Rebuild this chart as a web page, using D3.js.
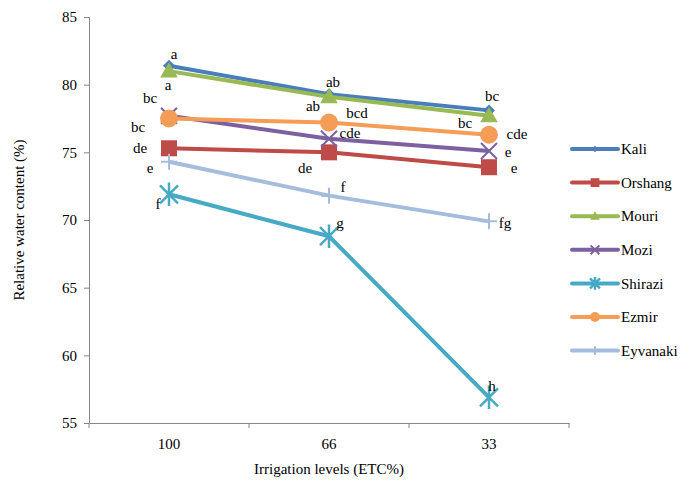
<!DOCTYPE html>
<html>
<head>
<meta charset="utf-8">
<script src="https://cdn.jsdelivr.net/npm/d3@7/dist/d3.min.js"></script>
<style>
  body { margin: 0; background: #fff; }
  svg text { font-family: "Liberation Serif", "Times New Roman", Times, "DejaVu Serif", serif !important; fill: #000; }
</style>
</head>
<body>
<div id="chart"></div>
<script>
// data
const levels = ["100", "66", "33"];
const series = ["Kali", "Orshang", "Mouri", "Mozi", "Shirazi", "Ezmir", "Eyvanaki"];
const kali = [81.4, 79.3, 78.1];
const orshang = [75.3, 75.0, 73.9];
const mouri = [81.0, 79.1, 77.7];
const mozi = [77.7, 76.0, 75.1];
const shirazi = [71.9, 68.8, 56.9];
const ezmir = [77.5, 77.2, 76.3];
const eyvanaki = [74.3, 71.8, 69.9];
const letters = [
  ["a", "ab", "bc"],
  ["de", "de", "e"],
  ["a", "ab", "bc"],
  ["bc", "cde", "e"],
  ["f", "g", "h"],
  ["bc", "bcd", "cde"],
  ["e", "f", "fg"]
];
const yTicks = [55, 60, 65, 70, 75, 80, 85];

// label offsets from the point (layout only)
const labelOffsets = [
  [[5, -12], [4, -12], [3, -15]],
  [[-29, -1], [-24, 15], [25, 1]],
  [[-1, 14], [-16, 9], [-24, 7]],
  [[-19, -18], [21, -6], [19, 1]],
  [[-11, 9], [11, -13], [3, -12]],
  [[-31, 8], [28, -10], [28, -1]],
  [[-19, 6], [14, -9], [16, 1]]
];

const values = [kali, orshang, mouri, mozi, shirazi, ezmir, eyvanaki];
const colors = ["#4A7EBB", "#BE4B48", "#98B954", "#7D60A0", "#46AAC5", "#F59D56", "#A5BCDC"];
const symbols = ["diamond", "square", "triangle", "x", "star", "circle", "plus"];

const width = 691, height = 482;
const svg = d3.select("#chart").append("svg")
  .attr("width", width).attr("height", height);

const x = d3.scaleBand().domain(levels).range([89, 569]);
const y = d3.scaleLinear().domain([55, 85]).range([423, 17]);
const cx = d => x(d) + x.bandwidth() / 2;

// axes
const axisColor = "#868686";
const yAxis = svg.append("g").attr("transform", "translate(89,0)")
  .call(d3.axisLeft(y).tickValues(yTicks).tickSize(5).tickPadding(7));
const xAxis = svg.append("g").attr("transform", "translate(0,423)")
  .call(d3.axisBottom(x).tickSize(0).tickPadding(15));
[yAxis, xAxis].forEach(a => {
  a.attr("font-family", null);
  a.select(".domain").attr("stroke", axisColor);
  a.selectAll(".tick line").attr("stroke", axisColor);
  a.selectAll("text").style("font-size", "15px");
});
// x tick marks at band edges
xAxis.selectAll(".edge")
  .data([89, 249, 409, 569])
  .join("line")
  .attr("x1", d => d).attr("x2", d => d)
  .attr("y1", 0).attr("y2", 5)
  .attr("stroke", axisColor);

svg.append("text")
  .attr("transform", "translate(24,220) rotate(-90)")
  .attr("text-anchor", "middle")
  .style("font-size", "15px")
  .text("Relative water content (%)");
svg.append("text")
  .attr("x", 329).attr("y", 474)
  .attr("text-anchor", "middle")
  .style("font-size", "15px")
  .text("Irrigation levels (ETC%)");

// marker drawing
function drawMarker(g, type, color, s) {
  if (type === "diamond") {
    g.append("path").attr("d", `M0,${-s} L${s},0 L0,${s} L${-s},0Z`).attr("fill", color);
  } else if (type === "square") {
    g.append("rect").attr("x", -s).attr("y", -s).attr("width", 2 * s).attr("height", 2 * s).attr("fill", color);
  } else if (type === "triangle") {
    g.append("path").attr("d", `M0,${-s * 1.1} L${s * 1.1},${s * 0.8} L${-s * 1.1},${s * 0.8}Z`).attr("fill", color);
  } else if (type === "circle") {
    g.append("circle").attr("r", s).attr("fill", color);
  } else if (type === "x") {
    g.append("path").attr("d", `M${-s},${-s} L${s},${s} M${s},${-s} L${-s},${s}`)
      .attr("stroke", color).attr("stroke-width", 2);
  } else if (type === "star") {
    g.append("path").attr("d", `M${-s},${-s} L${s},${s} M${s},${-s} L${-s},${s} M0,${-s * 1.3} L0,${s * 1.3}`)
      .attr("stroke", color).attr("stroke-width", 2.5);
  } else if (type === "plus") {
    g.append("path").attr("d", `M${-s},0 L${s},0 M0,${-s} L0,${s}`)
      .attr("stroke", color).attr("stroke-width", 2);
  }
}
const markerSize = { diamond: 6, square: 8, triangle: 8, x: 8, star: 9, circle: 9, plus: 8 };

const line = d3.line().x((d, i) => cx(levels[i])).y(d => y(d));

const plot = svg.append("g");
series.forEach((name, si) => {
  const g = plot.append("g");
  g.append("path")
    .datum(values[si])
    .attr("d", line)
    .attr("fill", "none")
    .attr("stroke", colors[si])
    .attr("stroke-width", 4)
    .attr("stroke-linejoin", "round");
  values[si].forEach((v, i) => {
    const m = g.append("g").attr("transform", `translate(${cx(levels[i])},${y(v)})`);
    drawMarker(m, symbols[si], colors[si], markerSize[symbols[si]]);
  });
});

// significance letters
const labels = svg.append("g");
series.forEach((name, si) => {
  values[si].forEach((v, i) => {
    const off = labelOffsets[si][i];
    labels.append("text")
      .attr("x", cx(levels[i]) + off[0])
      .attr("y", y(v) + off[1])
      .attr("dy", "0.35em")
      .attr("text-anchor", "middle")
      .style("font-size", "15px")
      .text(letters[si][i]);
  });
});

// legend
const legend = svg.append("g");
series.forEach((name, si) => {
  const ly = 149 + si * 33.6;
  const g = legend.append("g");
  g.append("line").attr("x1", 572).attr("x2", 618).attr("y1", ly).attr("y2", ly)
    .attr("stroke", colors[si]).attr("stroke-width", 4).attr("stroke-linecap", "round");
  const m = g.append("g").attr("transform", `translate(595,${ly})`);
  drawMarker(m, symbols[si], colors[si], markerSize[symbols[si]] * 0.55);
  g.append("text").attr("x", 621).attr("y", ly).attr("dy", "0.35em")
    .style("font-size", "15px").text(name);
});
</script>
</body>
</html>
